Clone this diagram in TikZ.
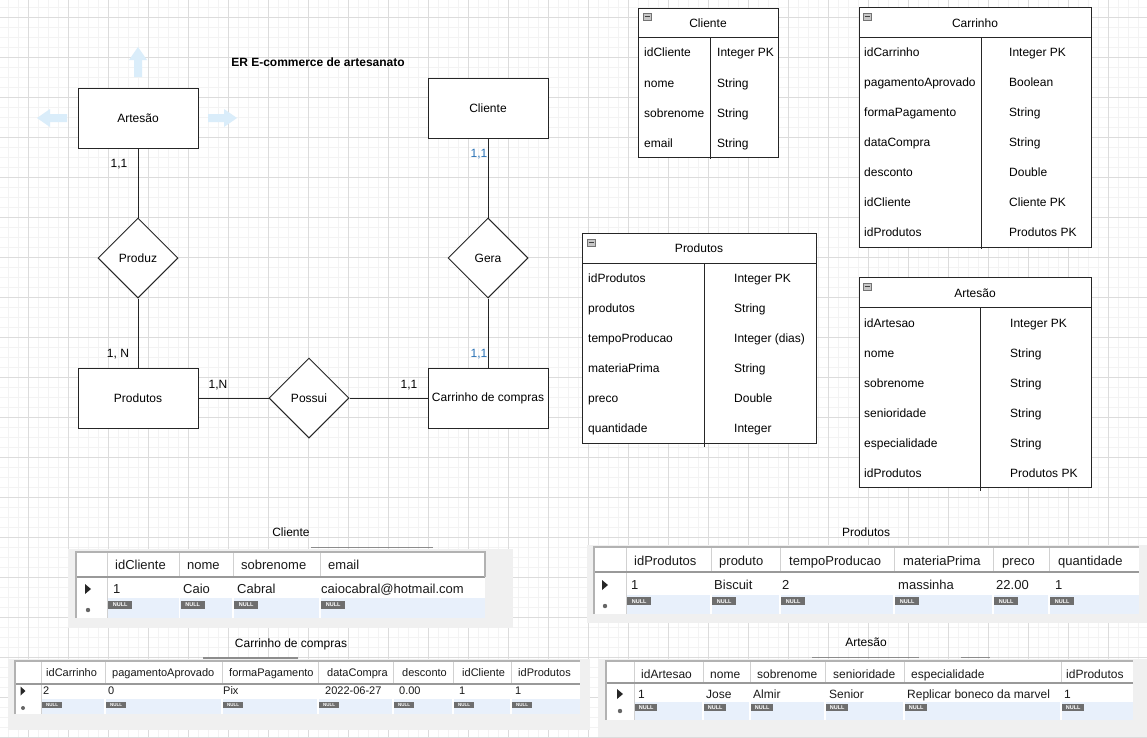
\documentclass[tikz,border=0pt]{standalone}
\usepackage{fontspec}
\setmainfont{Liberation Sans}
\usetikzlibrary{shapes.geometric}
\definecolor{majorg}{HTML}{DCDCDC}
\definecolor{minorg}{HTML}{F3F3F3}
\definecolor{hint}{HTML}{DAEDFA}
\definecolor{cardblue}{HTML}{2B72B5}
\definecolor{panelbg}{HTML}{F0F0F0}
\definecolor{nullblue}{HTML}{E8F0FB}
\definecolor{badgeg}{HTML}{6E6E6E}
\definecolor{linec}{HTML}{262626}
\newcommand{\erf}{\fontsize{12}{14}\selectfont}
\tikzset{
  ent/.style={draw=linec, line width=1pt, fill=white, minimum width=120, minimum height=60, inner sep=0, font=\erf},
  rel/.style={diamond, aspect=1, draw=linec, line width=1pt, fill=white, minimum width=80, minimum height=80, inner sep=0, font=\erf},
  conn/.style={draw=linec, line width=1pt},
  card/.style={font=\erf, inner sep=0, text height=8.6, text depth=0},
  lbl/.style={font=\erf, inner sep=0},
  tt/.style={font=\erf, inner sep=0, anchor=west, text height=8.6, text depth=0},
  tbox/.style={draw=linec, line width=1pt, fill=white},
  tline/.style={draw=linec, line width=1pt},
  g13/.style={font=\fontsize{13}{15}\selectfont, inner sep=0, anchor=west, text=black!90, text height=9.3, text depth=0},
  g12/.style={font=\fontsize{12}{14}\selectfont, inner sep=0, anchor=west, text=black!90, text height=8.6, text depth=0},
  g11/.style={font=\fontsize{11}{13}\selectfont, inner sep=0, anchor=west, text=black!90, text height=7.9, text depth=0},
  badge/.style={anchor=north west, fill=badgeg, text=white, font=\fontsize{5.5}{6}\selectfont\bfseries, inner sep=0, minimum width=24, minimum height=8},
  sbadge/.style={badge, minimum width=20, minimum height=6.5, font=\fontsize{4.5}{5}\selectfont\bfseries},
  cellsep/.style={draw=black!18, line width=1pt},
  hdrline/.style={draw=black!40, line width=1.5pt},
  tblborder/.style={draw=black!30, line width=1.2pt},
  tabline/.style={draw=black!45, line width=1.3pt},
}
\begin{document}
\begin{tikzpicture}[x=1pt,y=-1pt]
\useasboundingbox (0,0) rectangle (1147,737);
\fill[white] (0,0) rectangle (1147,737);
% background grid
\foreach \i in {0,...,114} \draw[minorg, line width=1pt] ({8.5+10*\i},0) -- ({8.5+10*\i},737);
\foreach \j in {0,...,73} \draw[minorg, line width=1pt] (0,{7.3+10*\j}) -- (1147,{7.3+10*\j});
\foreach \i in {0,...,28} \draw[majorg, line width=1pt] ({28.5+40*\i},0) -- ({28.5+40*\i},737);
\foreach \j in {0,...,18} \draw[majorg, line width=1pt] (0,{17.3+40*\j}) -- (1147,{17.3+40*\j});

% hover arrows around Artesao
\fill[hint] (134,77) -- (134,60) -- (129,60) -- (138,47) -- (147,60) -- (142,60) -- (142,77) -- cycle;
\fill[hint] (67,114) -- (50,114) -- (50,109) -- (37,118) -- (50,127) -- (50,122) -- (67,122) -- cycle;
\fill[hint] (208,114) -- (224,114) -- (224,109) -- (237,118) -- (224,127) -- (224,122) -- (208,122) -- cycle;

% ER diagram
\node[lbl, font=\erf\bfseries] (title) at (318,62) {ER E-commerce de artesanato};
\node[ent] (artesao) at (138,118) {Artesão};
\node[ent] (clienteER) at (488,108) {Cliente};
\node[rel] (produz) at (138,258) {Produz};
\node[rel] (gera) at (488,258) {Gera};
\node[ent] (produtosER) at (138,398) {Produtos};
\node[ent] (carrinhoER) at (488,398) {Carrinho de compras};
\node[rel] (possui) at (309,398) {Possui};
\draw[conn] (artesao) -- (produz);
\draw[conn] (produz) -- (produtosER);
\draw[conn] (clienteER) -- (gera);
\draw[conn] (gera) -- (carrinhoER);
\draw[conn] (produtosER) -- (possui);
\draw[conn] (possui) -- (carrinhoER);
\node[card] (c1) at (119,163) {1,1};
\node[card, text=cardblue] (c2) at (479,153) {1,1};
\node[card] (c3) at (118,353) {1, N};
\node[card, text=cardblue] (c4) at (479,353) {1,1};
\node[card] (c5) at (218,384) {1,N};
\node[card] (c6) at (409,384) {1,1};

% table Cliente
\draw[tbox] (638,8) rectangle (778,157);
\draw[tline] (638,37.5) -- (778,37.5);
\draw[tline] (710,37.5) -- (710,159);
\node[lbl] (tclh) at (708,23) {Cliente};
\foreach \y/\a/\b [count=\i] in {52/idCliente/Integer PK,83/nome/String,113/sobrenome/String,143/email/String}{
  \node[tt] (tcla\i) at (644,\y) {\a};
  \node[tt] (tclb\i) at (717,\y) {\b};
}
% table Carrinho
\draw[tbox] (859,7) rectangle (1091,247);
\draw[tline] (859,37) -- (1091,37);
\draw[tline] (981,37) -- (981,249);
\node[lbl] (tcah) at (975,23) {Carrinho};
\foreach \y/\a/\b [count=\i] in {52/idCarrinho/Integer PK,82/pagamentoAprovado/Boolean,112/formaPagamento/String,142/dataCompra/String,172/desconto/Double,202/idCliente/Cliente PK,232/idProdutos/Produtos PK}{
  \node[tt] (tcaa\i) at (864,\y) {\a};
  \node[tt] (tcab\i) at (1009,\y) {\b};
}
% table Produtos
\draw[tbox] (582,233) rectangle (816,443);
\draw[tline] (582,263) -- (816,263);
\draw[tline] (704.5,263) -- (704.5,447);
\node[lbl] (tprh) at (699,248) {Produtos};
\foreach \y/\a/\b [count=\i] in {278/idProdutos/Integer PK,308/produtos/String,338/tempoProducao/Integer (dias),368/materiaPrima/String,398/preco/Double,428/quantidade/Integer}{
  \node[tt] (tpra\i) at (588,\y) {\a};
  \node[tt] (tprb\i) at (734,\y) {\b};
}
% table Artesao
\draw[tbox] (859,277) rectangle (1091,487);
\draw[tline] (859,307) -- (1091,307);
\draw[tline] (980,307) -- (980,491);
\node[lbl] (tarh) at (975,293) {Artesão};
\foreach \y/\a/\b [count=\i] in {323/idArtesao/Integer PK,353/nome/String,383/sobrenome/String,413/senioridade/String,443/especialidade/String,473/idProdutos/Produtos PK}{
  \node[tt] (tara\i) at (864,\y) {\a};
  \node[tt] (tarb\i) at (1010,\y) {\b};
}
% minus icons
\foreach \x/\y in {643/13,863/13,587/239,863/283}{
  \fill[black!22] (\x,\y) rectangle ({\x+8},{\y+7.5});
  \draw[black!55, line width=0.5pt] (\x,\y) rectangle ({\x+8},{\y+7.5});
  \draw[black!75, line width=1pt] ({\x+1.5},{\y+3.8}) -- ({\x+6.5},{\y+3.8});
}

% ===== result grid Cliente =====
\node[lbl] (gcl) at (291,532) {Cliente};
\fill[panelbg] (68,549) rectangle (513,628);
\draw[tabline] (311,547.5) -- (433,547.5);
\fill[white] (76,552) rectangle (485,618);
\fill[nullblue] (107,598) rectangle (485,618);
\foreach \c in {179.5,233,320} \draw[white, line width=1.5pt] (\c,598) -- (\c,618);
\foreach \c in {179.5,233,320} \draw[cellsep] (\c,552) -- (\c,577);
\draw[cellsep] (107,552) -- (107,618);
\draw[hdrline] (76,577) -- (485,577);
\draw[tblborder] (76,618) -- (76,552) -- (485,552) -- (485,577);
\foreach \x/\t [count=\i] in {115/idCliente,187/nome,241/sobrenome,328/email} \node[g13] (clh\i) at (\x,565) {\t};
\foreach \x/\t [count=\i] in {113/1,183/Caio,237/Cabral,321/caiocabral@hotmail.com} \node[g13] (cld\i) at (\x,589) {\t};
\foreach \x [count=\i] in {108,180.5,234,321} \node[badge] (cln\i) at (\x,600.5) {NULL};
\fill[black!85] (85,584) -- (91,589) -- (85,594) -- cycle;
\fill[black!60] (88,610) circle (2.2);

% ===== result grid Produtos =====
\node[lbl] (gpr) at (866,532) {Produtos};
\fill[panelbg] (587,545) rectangle (1147,623);
\fill[white] (594,547) rectangle (1139,614);
\fill[nullblue] (626,595) rectangle (1139,614);
\foreach \c in {711,780,894,993,1049} \draw[white, line width=1.5pt] (\c,595) -- (\c,614);
\foreach \c in {711,780,894,993,1049} \draw[cellsep] (\c,547) -- (\c,572);
\draw[cellsep] (626,547) -- (626,614);
\draw[hdrline] (594,572) -- (1139,572);
\draw[tblborder] (594,614) -- (594,547) -- (1139,547);
\foreach \x/\t [count=\i] in {634/idProdutos,719/produto,789/tempoProducao,903/materiaPrima,1002/preco,1058/quantidade} \node[g13] (prh\i) at (\x,561) {\t};
\foreach \x/\t [count=\i] in {631/1,714/Biscuit,782/2,898/massinha,996/22.00,1055/1} \node[g13] (prd\i) at (\x,585) {\t};
\foreach \x [count=\i] in {627,712,781,895,994,1050} \node[badge] (prn\i) at (\x,597) {NULL};
\fill[black!85] (602,580) -- (608,585) -- (602,590) -- cycle;
\fill[black!60] (605,606) circle (2.2);

% ===== result grid Carrinho de compras =====
\node[lbl] (gca) at (291,644) {Carrinho de compras};
\fill[panelbg] (8,659) rectangle (590,730);
\draw[tabline] (203,658) -- (298,658);
\fill[white] (15,661) rectangle (580,714);
\fill[nullblue] (41,699) rectangle (580,714);
\foreach \c in {105,222,318,393,453,511} \draw[white, line width=1.5pt] (\c,699) -- (\c,714);
\foreach \c in {105,222,318,393,453,511} \draw[cellsep] (\c,661) -- (\c,684);
\draw[cellsep] (41,661) -- (41,714);
\draw[hdrline] (15,684) -- (580,684);
\draw[tblborder] (15,714) -- (15,661) -- (580,661);
\foreach \x/\t [count=\i] in {46/idCarrinho,112/pagamentoAprovado,229/formaPagamento,327/dataCompra,402/desconto,462/idCliente,518/idProdutos} \node[g11] (cah\i) at (\x,673) {\t};
\foreach \x/\t [count=\i] in {43/2,108/0,223/Pix,325/2022-06-27,399/0.00,459/1,515/1} \node[g11] (cad\i) at (\x,691) {\t};
\foreach \x [count=\i] in {42,106,223,319,394,454,512} \node[sbadge] (can\i) at (\x,701.5) {NULL};
\fill[black!85] (20.5,686.5) -- (25.5,691) -- (20.5,695.5) -- cycle;
\fill[black!60] (23,708) circle (2);

% ===== result grid Artesao =====
\node[lbl] (gar) at (866,642) {Artesão};
\fill[panelbg] (598,659) rectangle (1147,737);
\draw[tabline] (812,657.5) -- (919,657.5);
\draw[tabline] (961,657.5) -- (990,657.5);
\fill[white] (606,661) rectangle (1133,720);
\fill[nullblue] (634,702) rectangle (1133,720);
\foreach \c in {703,750,825,904,1061} \draw[white, line width=1.5pt] (\c,702) -- (\c,720);
\foreach \c in {703,750,825,904,1061} \draw[cellsep] (\c,661) -- (\c,683);
\draw[cellsep] (634,661) -- (634,720);
\draw[hdrline] (606,683) -- (1133,683);
\draw[tblborder] (606,720) -- (606,661) -- (1133,661);
\foreach \x/\t [count=\i] in {641/idArtesao,710/nome,757/sobrenome,833/senioridade,911/especialidade,1066/idProdutos} \node[g12] (arh\i) at (\x,674) {\t};
\foreach \x/\t [count=\i] in {638/1,706/Jose,753/Almir,829/Senior,907/Replicar boneco da marvel,1064/1} \node[g12] (ard\i) at (\x,694) {\t};
\foreach \x [count=\i] in {635,704,751,826,905,1062} \node[badge, minimum width=22, minimum height=7.5] (arn\i) at (\x,703.5) {NULL};
\fill[black!85] (617,689) -- (623,694) -- (617,699) -- cycle;
\fill[black!60] (620,711) circle (2.2);
\end{tikzpicture}
\end{document}
